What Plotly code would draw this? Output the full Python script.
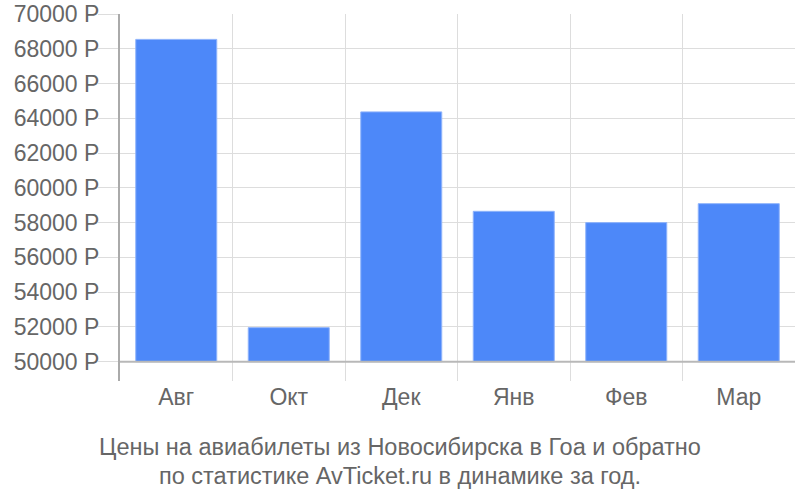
import plotly.graph_objects as go

months = ["Авг", "Окт", "Дек", "Янв", "Фев", "Мар"]
prices = [68540, 51960, 64370, 58650, 58000, 59090]
base_price = 50000
y_ticks = list(range(50000, 70001, 2000))
y_labels = [f"{v} Р" for v in y_ticks]
title_lines = ["Цены на авиабилеты из Новосибирска в Гоа и обратно",
               "по статистике AvTicket.ru в динамике за год."]

xs = list(range(len(months)))
fig = go.Figure()
fig.add_trace(go.Bar(
    x=xs, y=[p - base_price for p in prices], base=base_price,
    marker=dict(color="#4d88f9", line=dict(color="#8fb3fb", width=1)),
    width=0.72, hovertemplate="%{x}: %{customdata} Р<extra></extra>",
    customdata=prices,
))
fig.add_shape(type="line", xref="paper", x0=0, x1=1, yref="y", y0=base_price, y1=base_price,
              line=dict(color="#b8b8b8", width=2), layer="above")

font_family = "Liberation Sans, Arial, sans-serif"
txt_color = "#666666"
fig.update_layout(
    width=800, height=500,
    margin=dict(l=120, r=5, t=14, b=119, autoexpand=False),
    paper_bgcolor="white", plot_bgcolor="white",
    showlegend=False,
    font=dict(family=font_family, size=23, color=txt_color),
    xaxis=dict(
        range=[-0.5, 5.5], tickvals=xs, ticktext=months, showgrid=False,
        ticks="", zeroline=False, showline=False, automargin=False,
        tickfont=dict(size=23, color=txt_color),
        minor=dict(tick0=-0.5, dtick=1, showgrid=True, gridcolor="#dddddd", gridwidth=1,
                   ticks=""),
    ),
    yaxis=dict(
        range=[48890, 70000], tickvals=y_ticks, ticktext=y_labels,
        showgrid=True, gridcolor="#dddddd", gridwidth=1,
        ticks="outside", ticklen=20, tickcolor="#dddddd", automargin=False,
        ticklabelstandoff=-6,
        zeroline=False, showline=True, linecolor="#aaaaaa", linewidth=2,
        tickfont=dict(size=23, color=txt_color),
    ),
    annotations=[
        dict(xref="paper", yref="paper", x=0.415, y=yv, xanchor="center", yanchor="middle",
             text=line, showarrow=False,
             font=dict(size=23.5, color=txt_color, family=font_family))
        for line, yv in zip(title_lines, [-0.1800, -0.2590])
    ],
)
fig.write_html("out.html", config={"displayModeBar": False},
               post_script="document.body.style.margin='0';")
